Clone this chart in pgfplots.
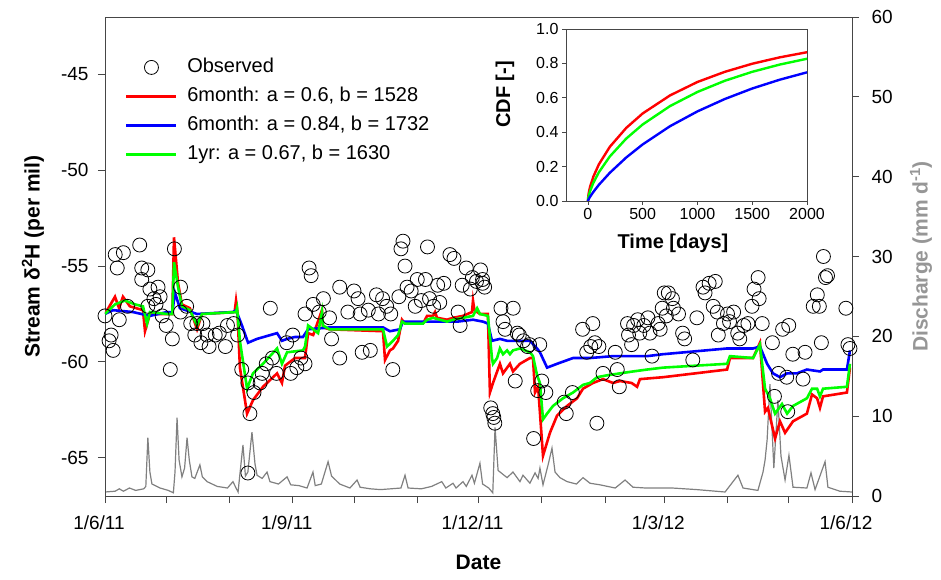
\documentclass[border=0pt]{standalone}
\usepackage{fontspec}
\setmainfont{Liberation Sans}
\usepackage{pgfplots}
\usepackage{pgfplotstable}
\pgfplotsset{compat=1.18}
\definecolor{qgray}{RGB}{128,128,128}
\definecolor{lblgray}{RGB}{150,150,150}
\definecolor{mred}{RGB}{255,0,0}
\definecolor{mblue}{RGB}{0,0,255}
\definecolor{mgreen}{RGB}{0,255,0}
\definecolor{axgray}{RGB}{70,70,70}

\pgfplotstableread{
d q
0 0.5
5 0.6
7 0.9
9 0.6
12 1.0
15 0.7
19 0.9
20 1.2
21 7.3
22 3.0
23 1.5
27 1.0
31 0.7
33.5 0.4
34.3 3.0
35.3 9.8
36.3 4.5
37.7 2.4
39 3.5
40.2 7.3
41.3 4.5
42.6 2.4
44 2.2
46.5 3.9
47.7 2.4
50 1.8
55 1.2
60 1.0
62.7 1.8
64 1.1
65.2 0.5
66 2.5
67.6 6.4
68.8 2.5
70 3.0
72 8.0
73.5 4.0
74.5 2.6
77 2.2
79.4 3.0
80.8 1.8
85 1.5
89.2 2.4
91 1.4
95 1.3
99 1.0
101.9 3.0
103 1.3
106 1.5
109.3 4.3
111 2.5
115 1.5
120 1.0
123.5 2.0
125 1.1
130 0.9
135 0.8
140 0.9
145 1.0
147 2.6
148.5 1.0
155 0.9
160 1.2
165 1.8
167 1.0
170.5 1.6
172 1.0
175.4 1.8
177 1.2
179.8 2.6
181 1.6
183.7 4.1
185 1.5
188 1.0
190 0.4
191.1 8.6
192.6 3.2
197 2.3
199.9 3.0
203.3 1.8
204.8 2.6
208.2 1.6
210.7 2.9
212.2 2.2
213.1 3.5
214.6 1.4
217.1 3.9
219 6.0
220.5 3.0
222.9 2.3
226.4 1.8
231 1.5
234.2 2.3
237.6 1.6
242.5 1.4
250 1.0
254.8 2.0
258.7 1.1
265 1.0
278 1.0
290 0.8
303.8 0.5
310.1 2.6
312.6 1.0
319.9 0.7
322.4 3.0
323.4 4.5
324.4 7.0
325.8 14.0
327.7 3.5
329.7 12.0
331.2 5.0
333.2 2.0
335.1 5.1
337.1 1.1
343.9 1.0
345.9 2.9
347.9 0.8
352.8 4.3
354.2 1.1
360 0.6
366 0.5
}\discharge

\pgfplotstableread{
d v
0 -57.6
5 -54.4
6 -55.1
9 -54.3
17 -53.9
2 -58.9
4 -59.4
3 -58.6
7 -57.8
11 -57.1
18 -55.1
21 -55.2
18 -55.7
22 -56.2
26 -56.1
24 -56.7
27 -56.6
21 -57.1
25 -57.0
28 -57.6
30 -58.1
33 -58.8
32 -60.4
34 -54.1
37 -56.1
37 -57.4
40 -57.1
42 -58.0
45 -58.0
44 -58.6
48 -58.0
47 -59.0
50 -58.6
51 -59.2
54 -58.6
56 -58.5
59 -59.2
60 -58.1
63 -58.0
65 -58.6
81 -57.2
67 -60.4
70 -61.1
71 -62.7
73 -61.6
76 -61.1
77 -60.6
79 -60.1
82 -59.8
84 -60.6
89 -59.0
92 -58.6
91 -60.6
70 -65.8
96 -59.8
94 -60.3
98 -60.1
100 -55.1
101 -55.5
98 -57.5
102 -57.0
107 -56.7
105 -57.4
110 -57.7
111 -58.8
115 -56.1
115 -59.8
119 -57.4
122 -56.3
124 -56.7
125 -57.5
126 -59.5
129 -57.3
130 -59.4
133 -56.5
134 -57.5
136 -56.7
138 -57.1
140 -57.5
141 -60.4
144 -56.6
145 -54.1
146 -53.7
147 -55.0
148 -56.1
150 -56.3
152 -57.1
153 -55.7
155 -56.8
157 -55.7
158 -54.0
159 -56.7
161 -57.1
163 -56.0
164 -56.9
166 -55.9
169 -54.4
171 -54.6
173 -57.4
174 -58.1
175 -56.0
177 -55.1
179 -56.2
180 -55.6
182 -55.8
184 -55.2
185 -55.9
185 -55.7
186 -56.1
194 -57.2
200 -57.2
195 -57.9
196 -58.3
202 -58.5
203 -58.6
205 -58.9
207 -59.2
208 -59.1
213 -59.1
201 -61.0
189 -62.4
190 -62.7
190.5 -62.9
191 -63.2
210 -64.0
212 -61.5
214 -61.0
216 -61.6
225 -62.1
226 -62.7
229 -61.6
234 -58.3
239 -58.0
238 -59.2
236 -59.5
240 -59.0
242 -59.2
244 -60.6
241 -63.2
251 -60.4
252 -61.3
250 -59.5
256 -58.0
256.5 -58.6
259 -58.1
258 -59.1
261 -57.8
262 -58.5
264 -58.1
266 -57.7
267 -58.5
268 -59.7
271 -58.0
273 -57.2
272 -58.3
274 -56.4
275 -57.6
278 -56.7
276 -56.4
278.5 -57.2
281 -57.5
283 -58.5
284 -58.8
288 -59.9
290 -57.7
293 -56.1
294 -56.4
296 -55.9
299 -55.8
298 -57.1
300 -57.4
300.5 -58.6
303 -58.0
305 -57.5
306 -57.9
308 -57.4
310 -58.5
311 -58.8
313 -58.1
315 -58.0
317 -57.1
318 -56.2
320 -55.6
320.5 -56.7
322 -58.0
327 -59.0
332 -58.3
335 -58.1
337 -59.6
343 -59.5
342 -60.9
347 -57.1
349 -56.5
350 -57.1
351 -59.0
352 -54.5
354 -55.5
353 -55.6
363 -57.2
364 -59.1
365 -59.3
330 -60.6
334 -60.8
328 -61.8
334.5 -62.6
}\observed

\pgfplotstableread{
d v
0 -57.5
4.9 -56.6
6.9 -57.2
8.8 -56.6
12.2 -57.1
18.6 -57.3
19.6 -58.4
22 -57.5
30.4 -57.5
33 -57.5
33.8 -53.5
35.8 -55.9
37.7 -57.0
41.6 -57.2
45.1 -58.3
47.5 -57.5
63.5 -57.4
64.2 -56.8
64.9 -57.4
66.1 -60.3
69.6 -62.7
72.5 -62.0
77.4 -61.3
84.3 -60.6
86.7 -61.1
88.2 -60.2
93.1 -59.8
97 -59.8
98 -59.8
99.5 -58.5
102 -58.6
106.3 -57.3
106.8 -58.2
110 -58.3
136.2 -58.4
137.2 -59.9
139.6 -59.4
141.1 -59.3
143.6 -58.9
145.5 -57.8
147 -58.0
155.8 -58.0
157.8 -57.6
160.7 -57.6
161.7 -57.4
162.7 -57.7
167.6 -57.8
170.5 -57.7
175.4 -57.6
179.8 -57.4
180.3 -56.8
181 -57.3
183.7 -57.5
187.6 -57.5
188.6 -61.6
190.1 -61.1
193.5 -60.1
195 -60.6
198.4 -60.1
199.9 -60.5
203.3 -60.1
208.2 -59.8
209.7 -59.8
210.7 -61.6
212.2 -61.3
214.6 -64.9
218 -63.7
221.5 -62.8
226.4 -62.3
231.3 -61.9
234.2 -61.4
239.1 -61.1
244 -60.9
248.9 -61.1
252.3 -61.0
258 -61.1
260.7 -61.3
262.1 -60.9
273.4 -60.8
304.8 -60.4
306.2 -59.8
317.5 -59.8
320.9 -59.0
323.4 -62.6
324.8 -62.4
328.3 -64.0
330.7 -63.1
333.2 -63.7
337.1 -63.1
343.9 -62.7
346.4 -61.7
348.9 -61.9
350.3 -62.4
351.8 -61.8
363.5 -61.6
365 -60.3
}\modred

\pgfplotstableread{
d v
0 -57.5
3.9 -57.3
13.7 -57.4
22 -57.6
30.4 -57.4
33 -57.4
34.3 -56.4
36.7 -57.2
45.1 -57.5
62.7 -57.4
64.2 -57.3
67.1 -58.1
70.1 -59.0
74.5 -58.8
84.3 -58.5
86.7 -58.9
89.2 -58.8
93.1 -58.7
97 -58.7
99.5 -58.3
110.2 -58.2
136.2 -58.2
139.6 -58.4
144.5 -58.3
146 -57.9
164.1 -57.9
172.5 -57.9
180.3 -57.8
185.2 -57.9
187.6 -58.0
189.6 -58.9
193.5 -58.8
197 -58.9
208.2 -58.9
211.7 -59.3
213.1 -59.5
216.6 -60.3
221.5 -60.1
229.3 -59.8
237.6 -59.8
248.9 -59.7
265.6 -59.7
273.4 -59.6
304.8 -59.3
317.5 -59.3
320.9 -59.2
324.4 -60.1
327.3 -60.6
330.7 -60.8
334.2 -60.6
339 -60.6
343.9 -60.4
350.3 -60.5
351.8 -60.4
363.5 -60.4
365 -59.4
}\modblue

\pgfplotstableread{
d v
0 -57.5
4.9 -57.0
9.8 -56.8
14.7 -57.0
18.6 -57.1
20.6 -58.0
22 -57.4
30.4 -57.5
33 -57.5
33.8 -54.8
35.8 -56.1
37.7 -57.1
41.6 -57.3
45.1 -58.1
47.5 -57.5
64.2 -57.4
64.7 -57.2
66.1 -58.9
69.6 -61.4
72.5 -60.6
77.4 -60.1
84.3 -59.3
86.7 -60.1
89.2 -59.5
97 -59.4
98 -59.2
99.5 -58.1
102 -58.3
104.4 -58.5
106.3 -57.4
106.8 -58.1
110 -58.3
136.2 -58.3
138.2 -59.2
141.1 -58.9
143.6 -58.6
145.5 -57.9
147 -58.0
155.8 -58.0
157.8 -57.8
160.7 -57.7
167.6 -57.9
170.5 -57.8
175.4 -57.7
180.3 -57.6
182.3 -57.2
183.7 -57.5
187.6 -57.6
189.6 -59.8
190.1 -60.1
192.1 -59.8
193.5 -59.3
195 -59.6
197 -59.4
198.4 -59.6
199.9 -59.4
203.3 -59.3
208.2 -59.5
209.7 -59.7
211.7 -60.7
213.1 -61.1
214.6 -63.0
216.6 -62.7
219.5 -62.3
224.4 -61.9
229.3 -61.6
234.2 -61.2
237.6 -61.1
241.1 -60.8
246 -60.7
252.3 -60.6
258.7 -60.5
265.6 -60.4
273.4 -60.3
304.8 -60.1
306.2 -59.7
317.5 -59.8
320.9 -59.1
323.4 -61.4
325.8 -61.9
328.3 -62.7
331.7 -62.2
334.2 -62.7
337.1 -62.3
343.9 -61.9
346.4 -61.4
348.9 -61.4
350.3 -61.8
351.8 -61.4
363.5 -61.3
365 -60.1
}\modgreen

\pgfplotstableread{
t r g b
0 0 0 0
1 0.0138 0.0078 0.0020
5 0.036 0.023 0.008
10 0.055 0.036 0.014
20 0.083 0.058 0.025
50 0.142 0.106 0.053
100 0.213 0.167 0.094
200 0.315 0.259 0.164
350 0.425 0.363 0.253
500 0.509 0.445 0.329
750 0.614 0.552 0.435
1000 0.692 0.634 0.521
1250 0.751 0.699 0.593
1500 0.798 0.751 0.654
1750 0.835 0.793 0.705
2000 0.865 0.827 0.748
}\cdf

\begin{document}
\begin{tikzpicture}
\useasboundingbox (-105pt,-84pt) rectangle (836pt,496pt);
% discharge (right axis)
\begin{axis}[
  at={(0pt,0pt)}, anchor=south west,
  width=747pt, height=479pt, scale only axis,
  xmin=0, xmax=366, ymin=0, ymax=60,
  axis x line=none, axis y line*=right,
  ytick={0,10,20,30,40,50,60},
  yticklabels={0,10,20,30,40,50,60},
  tick align=outside, major tick length=7pt,
  tick style={axgray, line width=0.9pt},
  axis line style={axgray, line width=0.9pt},
  yticklabel style={font=\fontsize{19}{21}\selectfont, xshift=9pt},
  ylabel={\textbf{Discharge (mm d\textsuperscript{-1})}},
  ylabel style={color=lblgray, font=\fontsize{21}{24}\selectfont,
    at={(axis description cs:1,0.5)}, anchor=center, yshift=-69pt},
]
\addplot[qgray, line width=1.2pt] table[x=d, y=q] {\discharge};
\end{axis}
% main axis
\begin{axis}[
  at={(0pt,0pt)}, anchor=south west,
  width=747pt, height=479pt, scale only axis,
  xmin=0, xmax=366, ymin=-67, ymax=-42,
  xtick={0,30,61,92,122,153,183,214,245,274,305,335,366},
  xticklabels={1/6/11,,,1/9/11,,,1/12/11,,,1/3/12,,,1/6/12},
  ytick={-65,-60,-55,-50,-45},
  yticklabels={-65,-60,-55,-50,-45},
  xtick pos=bottom, ytick pos=left,
  tick align=outside, major tick length=7pt,
  tick style={axgray, line width=0.9pt},
  axis line style={axgray, line width=0.9pt},
  tick label style={font=\fontsize{19}{21}\selectfont},
  yticklabel style={xshift=-6pt},
  xticklabel style={yshift=-9pt, xshift=-6pt},
  xlabel={\textbf{Date}},
  xlabel style={font=\fontsize{21}{24}\selectfont,
    at={(axis description cs:0.5,0)}, anchor=center, yshift=-66pt},
  ylabel={\textbf{Stream δ\textsuperscript{2}H (per mil)}},
  ylabel style={font=\fontsize{21}{24}\selectfont,
    at={(axis description cs:0,0.5)}, anchor=center, yshift=72pt},
  legend style={at={(axis description cs:0.027,0.925)}, anchor=north west,
    draw=none, fill=none, inner sep=0pt, outer sep=0pt,
    font=\fontsize{20}{24}\selectfont,
    nodes={text height=15pt, text depth=5pt, inner sep=4.5pt},
    legend cell align=left, row sep=0pt, column sep=5pt},
  legend image code/.code={%
    \draw[mark repeat=2, mark phase=2, #1] plot coordinates {(0pt,0pt) (25pt,0pt) (50pt,0pt)};},
]
\addplot[only marks, mark=o, mark size=7pt, black, line width=0.8pt] table[x=d, y=v] {\observed};
\addlegendentry{Observed}
\addplot[mred, line width=2.6pt] table[x=d, y=v] {\modred};
\addlegendentry{6month: a = 0.6, b = 1528}
\addplot[mblue, line width=2.6pt] table[x=d, y=v] {\modblue};
\addlegendentry{6month: a = 0.84, b = 1732}
\addplot[mgreen, line width=2.6pt] table[x=d, y=v] {\modgreen};
\addlegendentry{1yr: a = 0.67, b = 1630}
\end{axis}
% inset
\begin{axis}[
  at={(461pt,295pt)}, anchor=south west,
  width=241pt, height=172pt, scale only axis,
  xmin=-200, xmax=2000, ymin=0, ymax=1,
  xtick={0,500,1000,1500,2000},
  xticklabels={0,500,1000,1500,2000},
  ytick={0,0.2,0.4,0.6,0.8,1.0},
  yticklabels={0.0,0.2,0.4,0.6,0.8,1.0},
  xtick pos=bottom, ytick pos=left,
  tick align=outside, major tick length=4pt,
  tick style={axgray, line width=0.8pt},
  axis line style={axgray, line width=0.8pt},
  tick label style={font=\fontsize{16}{18}\selectfont},
  xlabel={\textbf{Time [days]}},
  xlabel style={font=\fontsize{20}{23}\selectfont,
    at={(axis description cs:0.444,0)}, anchor=center, yshift=-42pt},
  ylabel={\textbf{CDF [-]}},
  ylabel style={font=\fontsize{20}{23}\selectfont,
    at={(axis description cs:0,0.62)}, anchor=center, yshift=61pt},
  axis background/.style={fill=white},
]
\addplot[mred, line width=2.4pt] table[x=t, y=r] {\cdf};
\addplot[mgreen, line width=2.4pt] table[x=t, y=g] {\cdf};
\addplot[mblue, line width=2.4pt] table[x=t, y=b] {\cdf};
\end{axis}
\end{tikzpicture}
\end{document}
